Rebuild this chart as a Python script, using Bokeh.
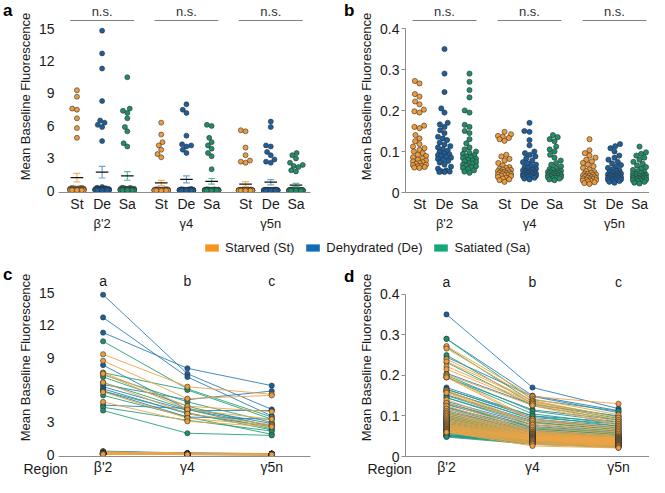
import math
from bokeh.plotting import figure
from bokeh.models import (FixedTicker, LinearAxis, Range1d, Title, Legend, LegendItem,
                          PrintfTickFormatter)
from bokeh.layouts import column, row
from bokeh.embed import file_html
from bokeh.resources import INLINE
from bokeh.core.properties import value

# ---------------- data ----------------
regions = ["β'2", "γ4", "γ5n"]
conditions = ["St", "De", "Sa"]
condition_names = ["Starved (St)", "Dehydrated (De)", "Satiated (Sa)"]
panel_letters = ["a", "b", "c", "d"]
sig_top = ["n.s.", "n.s.", "n.s."]
sig_bottom = ["a", "b", "c"]
x_title = "Region"
y_title = "Mean Baseline Fluorescence"
a_yticks = [0, 3, 6, 9, 12, 15]
a_ytick_labels = ["0", "3", "6", "9", "12", "15"]
b_yticks = [0, 0.1, 0.2, 0.3, 0.4]
b_ytick_labels = ["0", "0.1", "0.2", "0.3", "0.4"]

# low-fluorescence flies (panels b, d; also the near-zero points in a, c)
st_b2 = [0.272, 0.266, 0.240, 0.234, 0.222, 0.215, 0.202, 0.198, 0.195, 0.163, 0.160, 0.157,
         0.140, 0.132, 0.125, 0.118, 0.112, 0.108, 0.104, 0.100, 0.096, 0.092, 0.089, 0.086,
         0.083, 0.080, 0.078, 0.076, 0.074, 0.072, 0.070, 0.068, 0.067, 0.065, 0.064, 0.062,
         0.061, 0.060]
st_g4 = [0.148, 0.142, 0.138, 0.136, 0.133, 0.130, 0.126, 0.092, 0.088, 0.082, 0.078, 0.072,
         0.066, 0.062, 0.060, 0.058, 0.056, 0.055, 0.054, 0.052, 0.051, 0.050, 0.049, 0.048,
         0.047, 0.046, 0.045, 0.044, 0.043, 0.042, 0.041, 0.040, 0.038, 0.036, 0.034, 0.032,
         0.030, 0.026]
st_g5 = [0.130, 0.103, 0.096, 0.090, 0.085, 0.080, 0.076, 0.072, 0.068, 0.064, 0.060, 0.056,
         0.052, 0.050, 0.048, 0.046, 0.045, 0.044, 0.043, 0.042, 0.041, 0.040, 0.039, 0.038,
         0.037, 0.036, 0.035, 0.034, 0.033, 0.032, 0.031, 0.030, 0.029, 0.028, 0.027, 0.025,
         0.023, 0.021]

de_b2 = [0.350, 0.290, 0.245, 0.205, 0.195, 0.170, 0.166, 0.160, 0.152, 0.145, 0.136, 0.132,
         0.128, 0.122, 0.117, 0.113, 0.110, 0.106, 0.102, 0.099, 0.096, 0.093, 0.091, 0.089,
         0.087, 0.085, 0.082, 0.080, 0.077, 0.073, 0.068, 0.063, 0.058, 0.054, 0.052, 0.051,
         0.050, 0.050]
de_g4 = [0.170, 0.150, 0.148, 0.128, 0.115, 0.100, 0.096, 0.092, 0.088, 0.083, 0.078, 0.074,
         0.071, 0.068, 0.065, 0.062, 0.060, 0.058, 0.056, 0.054, 0.052, 0.051, 0.050, 0.049,
         0.048, 0.047, 0.046, 0.045, 0.044, 0.043, 0.042, 0.041, 0.040, 0.039, 0.038, 0.036,
         0.034, 0.032]
de_g5 = [0.118, 0.113, 0.108, 0.100, 0.090, 0.085, 0.080, 0.075, 0.071, 0.067, 0.063, 0.060,
         0.057, 0.054, 0.052, 0.050, 0.048, 0.046, 0.045, 0.044, 0.043, 0.042, 0.041, 0.040,
         0.039, 0.038, 0.037, 0.036, 0.035, 0.034, 0.033, 0.032, 0.031, 0.030, 0.029, 0.028,
         0.026, 0.024]

sa_b2 = [0.290, 0.270, 0.250, 0.232, 0.200, 0.195, 0.165, 0.160, 0.150, 0.145, 0.130, 0.120,
         0.110, 0.105, 0.100, 0.097, 0.094, 0.091, 0.088, 0.086, 0.084, 0.082, 0.080, 0.078,
         0.076, 0.074, 0.072, 0.070, 0.068, 0.066, 0.064, 0.062, 0.060, 0.057, 0.054, 0.051,
         0.048]
sa_g4 = [0.140, 0.135, 0.130, 0.125, 0.112, 0.105, 0.100, 0.092, 0.085, 0.078, 0.072, 0.068,
         0.064, 0.060, 0.057, 0.055, 0.053, 0.051, 0.050, 0.049, 0.048, 0.047, 0.046, 0.045,
         0.044, 0.043, 0.042, 0.041, 0.040, 0.039, 0.038, 0.037, 0.036, 0.035, 0.034, 0.032,
         0.030]
sa_g5 = [0.112, 0.098, 0.094, 0.090, 0.085, 0.080, 0.075, 0.070, 0.066, 0.062, 0.058, 0.055,
         0.052, 0.050, 0.048, 0.046, 0.044, 0.043, 0.042, 0.041, 0.040, 0.039, 0.038, 0.037,
         0.036, 0.035, 0.035, 0.034, 0.033, 0.032, 0.031, 0.030, 0.029, 0.028, 0.026, 0.024,
         0.022]

# high-fluorescence flies (panels a, c)
st_hi_b2 = [9.3, 8.7, 7.6, 7.5, 6.7, 5.8, 4.9]
st_hi_g4 = [6.3, 5.2, 4.5, 4.2, 3.8, 3.4, 3.1]
st_hi_g5 = [5.6, 5.5, 4.0, 3.3, 2.8, 2.7, 2.6]

de_hi_b2 = [14.8, 12.7, 11.3, 8.3, 6.5, 6.3, 6.1, 5.9, 4.6]
de_hi_g4 = [7.5, 7.2, 8.0, 4.2, 5.1, 4.1, 3.8, 3.5, 4.3]
de_hi_g5 = [4.2, 3.6, 6.4, 2.7, 5.9, 4.1, 2.6, 3.3, 2.9]

sa_hi_b2 = [10.5, 7.6, 7.4, 7.2, 6.7, 5.9, 5.5, 4.4, 4.1]
sa_hi_g4 = [6.1, 6.0, 4.9, 4.5, 4.2, 3.9, 3.5, 3.2, 2.0]
sa_hi_g5 = [3.5, 3.3, 3.0, 2.6, 2.4, 2.3, 1.9, 2.2, 1.8]

low = {"St": [st_b2, st_g4, st_g5], "De": [de_b2, de_g4, de_g5], "Sa": [sa_b2, sa_g4, sa_g5]}
high = {"St": [st_hi_b2, st_hi_g4, st_hi_g5], "De": [de_hi_b2, de_hi_g4, de_hi_g5],
        "Sa": [sa_hi_b2, sa_hi_g4, sa_hi_g5]}

# ---------------- style ----------------
FONT = "Liberation Sans"
TXT = "#1a1a1a"
AX = "#8c8c8c"
dot_fill = {"St": "#EE9B3B", "De": "#1B5F9E", "Sa": "#1F8F69"}
err_col = {"St": "#F4B266", "De": "#6FA3CC", "Sa": "#5CBF98"}
line_col = {"St": "#F2A446", "De": "#2F7FB8", "Sa": "#27A27B"}
legend_col = {"St": "#F7941D", "De": "#0F6DB8", "Sa": "#17A87A"}


def swarm(ys_px, diam, maxw):
    n = len(ys_px)
    order = sorted(range(n), key=lambda i: ys_px[i])
    placed = []
    xs = [0.0] * n
    for i in order:
        y = ys_px[i]
        near = [(px, py) for px, py in placed if abs(py - y) < diam]
        iv = []
        for px, py in near:
            dx = math.sqrt(diam * diam - (py - y) ** 2)
            iv.append((px - dx, px + dx))
        cands = sorted(set([0.0] + [a for a, b in iv] + [b for a, b in iv]), key=lambda c: (abs(c), c))
        chosen = None
        for c in cands:
            if abs(c) > maxw + 1e-6:
                continue
            if all(not (a + 1e-6 < c < b - 1e-6) for a, b in iv):
                chosen = c
                break
        if chosen is None:
            grid = [maxw * (k - 4) / 4.0 for k in range(9)]

            def score(c):
                return min(math.hypot(c - px, y - py) for px, py in near)
            chosen = max(grid, key=lambda c: (round(score(c), 3), -abs(c)))
        placed.append((chosen, y))
        xs[i] = chosen
    return xs


def base_style(p):
    p.grid.visible = False
    p.outline_line_color = None
    p.background_fill_color = "white"
    p.border_fill_color = "white"


def style_axes(p, yticks, ylabels, ybounds, show_yline, xticks, xlabels):
    p.yaxis.ticker = FixedTicker(ticks=yticks)
    p.yaxis.formatter = PrintfTickFormatter(format="%g")
    p.yaxis.major_label_overrides = {t: l for t, l in zip(yticks, ylabels)}
    p.yaxis.bounds = ybounds
    p.yaxis.axis_label = y_title
    p.yaxis.axis_label_text_font = FONT
    p.yaxis.axis_label_text_font_size = "13px"
    p.yaxis.axis_label_text_font_style = "normal"
    p.yaxis.axis_label_text_color = TXT
    p.yaxis.axis_label_standoff = 3
    p.yaxis.major_label_text_font = FONT
    p.yaxis.major_label_text_font_size = "14px"
    p.yaxis.major_label_text_color = TXT
    p.yaxis.minor_tick_line_color = None
    p.yaxis.minor_tick_out = 0
    p.yaxis.minor_tick_in = 0
    if show_yline:
        p.yaxis.axis_line_color = AX
        p.yaxis.major_tick_line_color = AX
        p.yaxis.major_tick_out = 4
        p.yaxis.major_tick_in = 0
        p.yaxis.major_label_standoff = 2
    else:
        p.yaxis.axis_line_color = None
        p.yaxis.major_tick_line_color = None
        p.yaxis.major_tick_out = 0
        p.yaxis.major_tick_in = 0
        p.yaxis.major_label_standoff = 4
    p.xaxis.ticker = FixedTicker(ticks=xticks)
    p.xaxis.major_label_overrides = {t: l for t, l in zip(xticks, xlabels)}
    p.xaxis.axis_line_color = AX
    p.xaxis.axis_line_width = 1
    p.xaxis.major_tick_line_color = None
    p.xaxis.minor_tick_line_color = None
    p.xaxis.major_tick_out = 0
    p.xaxis.major_tick_in = 0
    p.xaxis.minor_tick_out = 0
    p.xaxis.major_label_text_font = FONT
    p.xaxis.major_label_text_font_size = "14px"
    p.xaxis.major_label_text_color = TXT


def letter_axis(p, txt, yval):
    ax = LinearAxis(ticker=FixedTicker(ticks=[yval]), formatter=PrintfTickFormatter(format=txt))
    ax.major_label_overrides = {yval: txt}
    ax.axis_line_color = None
    ax.major_tick_line_color = None
    ax.minor_tick_line_color = None
    ax.major_tick_out = 0
    ax.major_tick_in = 0
    ax.minor_tick_out = 0
    ax.major_label_standoff = 2
    ax.major_label_text_font = FONT
    ax.major_label_text_font_size = "17px"
    ax.major_label_text_font_style = "bold"
    ax.major_label_text_color = "black"
    p.add_layout(ax, "left")


# ---------------- panel a / b (swarm) ----------------
def swarm_panel(width, xr, yr, bl, br, G, S, low_only, diam, maxw, ticks, tlabels, ybounds,
                yline, ns_line_y, ns_text_y, letter, letter_y, with_err):
    H, BB = 236, 44
    p = figure(width=width, height=H, x_range=Range1d(*xr), y_range=Range1d(*yr),
               output_backend="svg", toolbar_location=None,
               min_border_left=bl, min_border_right=br, min_border_top=0, min_border_bottom=BB)
    base_style(p)
    scale = (H - BB) / (yr[1] - yr[0])
    xt, xl = [], []
    for gi in range(3):
        for ci, c in enumerate(conditions):
            vals = list(low[c][gi]) + ([] if low_only else list(high[c][gi]))
            xc = gi * G + ci * S
            xt.append(xc)
            xl.append(c)
            offs = swarm([v * scale for v in vals], diam, maxw)
            p.scatter(x=[xc + o for o in offs], y=vals, size=diam, fill_color=dot_fill[c],
                      line_color="#333333", line_width=0.6)
            if with_err:
                n = len(vals)
                m = sum(vals) / n
                sd = math.sqrt(sum((v - m) ** 2 for v in vals) / (n - 1))
                se = sd / math.sqrt(n)
                p.segment(x0=[xc], y0=[m - se], x1=[xc], y1=[m + se], line_color=err_col[c], line_width=1.2)
                p.segment(x0=[xc - 3.5, xc - 3.5], y0=[m - se, m + se], x1=[xc + 3.5, xc + 3.5],
                          y1=[m - se, m + se], line_color=err_col[c], line_width=1.2)
                p.segment(x0=[xc - 6.5], y0=[m], x1=[xc + 6.5], y1=[m], line_color="#111111", line_width=1.3)
        x0 = gi * G - 7
        x1 = gi * G + 2 * S + 7
        p.segment(x0=[x0], y0=[ns_line_y], x1=[x1], y1=[ns_line_y], line_color="#808080", line_width=1)
        p.text(x=[gi * G + S], y=[ns_text_y], text=[sig_top[gi]], text_font=value(FONT),
               text_font_size="13px", text_color="#333333", text_align="center", text_baseline="bottom")
    style_axes(p, ticks, tlabels, ybounds, yline, xt, xl)
    p.xaxis.major_label_standoff = 3
    gx = LinearAxis(ticker=FixedTicker(ticks=[gi * G + S for gi in range(3)]))
    gx.major_label_overrides = {gi * G + S: regions[gi] for gi in range(3)}
    gx.axis_line_color = None
    gx.major_tick_line_color = None
    gx.minor_tick_line_color = None
    gx.major_tick_out = 0
    gx.major_tick_in = 0
    gx.minor_tick_out = 0
    gx.major_label_standoff = 1
    gx.major_label_text_font = FONT
    gx.major_label_text_font_size = "13px"
    gx.major_label_text_color = TXT
    p.add_layout(gx, "below")
    letter_axis(p, letter, letter_y)
    return p


pa = swarm_panel(333, (-19, 241), (-0.15, 17.587), 50, 23, 87, 26, False, 5.0, 7.0,
                 a_yticks, a_ytick_labels, (0, 15), False, 15.74, 15.88, panel_letters[0], 16.71, True)
pb = swarm_panel(316, (-14, 230), (0, 0.4683), 72, 0, 85, 25, True, 5.2, 6.5,
                 b_yticks, b_ytick_labels, (0, 0.4), True, 0.4195, 0.4232, panel_letters[1], 0.445, False)


# ---------------- panel c / d (lines) ----------------
def line_panel(width, xr, yr, bl, br, G, low_only, ticks, tlabels, ybounds, yline, letter_y,
               letter, letter_pos, region_offset):
    H, BB = 219, 19
    p = figure(width=width, height=H, x_range=Range1d(*xr), y_range=Range1d(*yr),
               output_backend="svg", toolbar_location=None,
               min_border_left=bl, min_border_right=br, min_border_top=0, min_border_bottom=BB)
    base_style(p)
    xs3 = [gi * G for gi in range(3)]
    order = ["De", "Sa", "St"]
    flies = {}
    for c in order:
        f = [list(t) for t in zip(*low[c])]
        if not low_only:
            f += [list(t) for t in zip(*high[c])]
        flies[c] = f
    for c in order:
        p.multi_line(xs=[xs3] * len(flies[c]), ys=flies[c], line_color=line_col[c],
                     line_width=1, line_alpha=0.9)
    for c in order:
        px, py = [], []
        for f in flies[c]:
            px += xs3
            py += f
        p.scatter(x=px, y=py, size=5.2, fill_color=dot_fill[c], line_color="#333333", line_width=0.6)
    p.text(x=xs3, y=[letter_y] * 3, text=sig_bottom, text_font=value(FONT), text_font_size="14px",
           text_color=TXT, text_align="center", text_baseline="middle")
    style_axes(p, ticks, tlabels, ybounds, yline, xs3, regions)
    p.xaxis.major_label_standoff = 2
    letter_axis(p, letter, letter_pos)
    p.add_layout(Title(text=x_title, align="left", offset=region_offset, standoff=-34,
                       vertical_align="top", text_font=FONT, text_font_size="14px",
                       text_font_style="normal", text_color=TXT), "below")
    return p


pc = line_panel(333, (-46, 214), (-0.15, 18.15), 50, 23, 87, False, a_yticks, a_ytick_labels,
                (0, 15), False, 16.1, panel_letters[2], 16.65, -35)
pd = line_panel(316, (-41, 203), (0, 0.4878), 72, 0, 86, True, b_yticks, b_ytick_labels,
                (0, 0.4), True, 0.429, panel_letters[3], 0.444, -38)

# ---------------- legend ----------------
pl = figure(width=649, height=22, x_range=Range1d(0, 1), y_range=Range1d(0, 1),
            output_backend="svg", toolbar_location=None, min_border=0)
base_style(pl)
pl.xaxis.visible = False
pl.yaxis.visible = False
items = []
for c, name in zip(conditions, condition_names):
    r = pl.quad(left=[2], right=[3], top=[3], bottom=[2], fill_color=legend_col[c], line_color=None)
    items.append(LegendItem(label=name, renderers=[r]))
leg = Legend(items=items, orientation="horizontal", location=(203, 3), padding=0, margin=0,
             spacing=10, glyph_width=17, glyph_height=9, label_height=16, label_standoff=5,
             label_text_font=FONT, label_text_font_size="13px", label_text_color=TXT,
             border_line_color=None, background_fill_alpha=0)
pl.add_layout(leg)

layout = column(row(pa, pb), pl, row(pc, pd))
open("out.html", "w").write(file_html(layout, INLINE))
